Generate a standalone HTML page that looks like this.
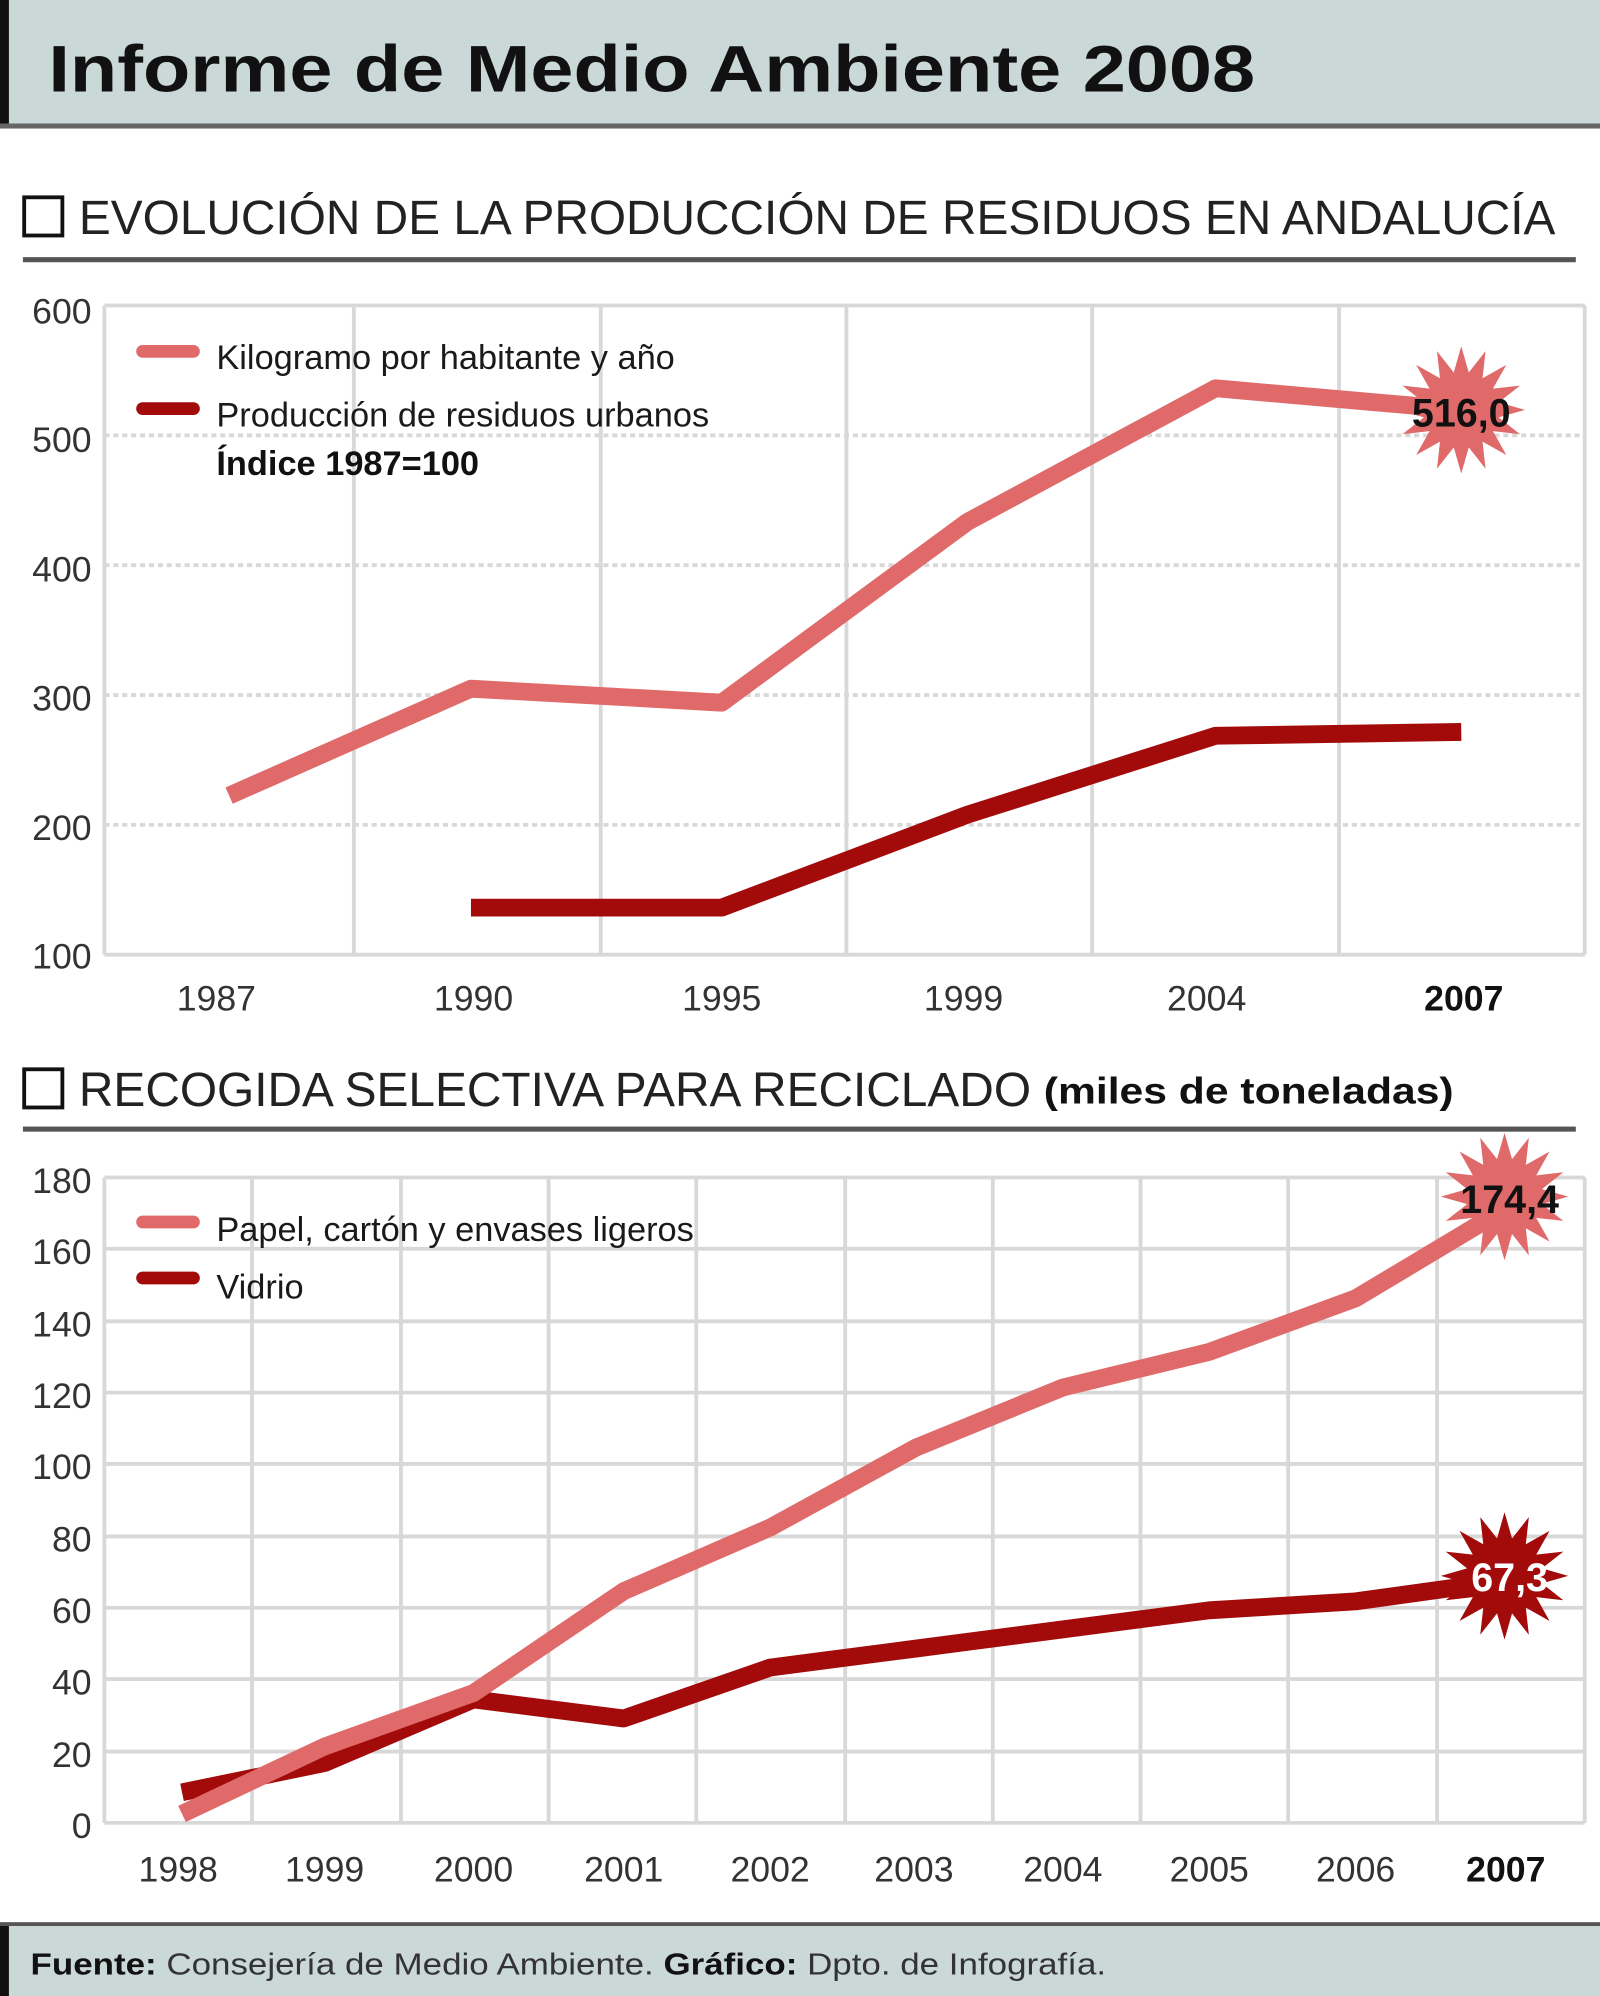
<!DOCTYPE html>
<html><head><meta charset="utf-8"><style>
html,body{margin:0;padding:0;background:#fff;width:1600px;height:1996px;overflow:hidden}
svg{display:block}
text{font-family:"Liberation Sans",sans-serif}
</style></head><body>
<svg width="1600" height="1996" viewBox="0 0 1257 1568" preserveAspectRatio="none" xmlns="http://www.w3.org/2000/svg">
<defs>
<polygon id="star" points="50,0 29.4,5.9 46.2,19.1 24.9,16.7 35.4,35.4 16.7,24.9 19.1,46.2 5.9,29.4 0,50 -5.9,29.4 -19.1,46.2 -16.7,24.9 -35.4,35.4 -24.9,16.7 -46.2,19.1 -29.4,5.9 -50,0 -29.4,-5.9 -46.2,-19.1 -24.9,-16.7 -35.4,-35.4 -16.7,-24.9 -19.1,-46.2 -5.9,-29.4 0,-50 5.9,-29.4 19.1,-46.2 16.7,-24.9 35.4,-35.4 24.9,-16.7 46.2,-19.1 29.4,-5.9"/>
</defs>
<rect width="1257" height="1568" fill="#fff"/>
<!-- header -->
<rect x="0" y="0" width="1257" height="100" fill="#cbd8d8"/>
<rect x="0" y="0" width="7" height="100" fill="#111"/>
<rect x="0" y="97" width="1257" height="4" fill="#666"/>
<text x="38" y="72" font-size="52" font-weight="bold" fill="#111" textLength="948" lengthAdjust="spacingAndGlyphs">Informe de Medio Ambiente 2008</text>

<!-- section 1 -->
<rect x="19" y="155" width="30" height="30" fill="none" stroke="#111" stroke-width="3"/>
<text x="62" y="184" font-size="38" fill="#222" textLength="1160" lengthAdjust="spacingAndGlyphs">EVOLUCIÓN DE LA PRODUCCIÓN DE RESIDUOS EN ANDALUCÍA</text>
<rect x="18" y="202" width="1220" height="4" fill="#555"/>

<g stroke="#d8d8d8" stroke-width="3">
<line x1="82" y1="240" x2="1245" y2="240"/>
<line x1="82" y1="750" x2="1245" y2="750"/>
<line x1="82" y1="342" x2="1245" y2="342" stroke-dasharray="4 3"/>
<line x1="82" y1="444" x2="1245" y2="444" stroke-dasharray="4 3"/>
<line x1="82" y1="546" x2="1245" y2="546" stroke-dasharray="4 3"/>
<line x1="82" y1="648" x2="1245" y2="648" stroke-dasharray="4 3"/>
<line x1="82" y1="240" x2="82" y2="750"/>
<line x1="278" y1="240" x2="278" y2="750"/>
<line x1="472" y1="240" x2="472" y2="750"/>
<line x1="665" y1="240" x2="665" y2="750"/>
<line x1="858" y1="240" x2="858" y2="750"/>
<line x1="1052" y1="240" x2="1052" y2="750"/>
<line x1="1245" y1="240" x2="1245" y2="750"/>
</g>
<g font-size="28" fill="#333" text-anchor="end">
<text x="72" y="254">600</text><text x="72" y="355">500</text><text x="72" y="457">400</text>
<text x="72" y="558">300</text><text x="72" y="660">200</text><text x="72" y="761">100</text>
</g>
<g font-size="28" fill="#333" text-anchor="middle">
<text x="170" y="794">1987</text><text x="372" y="794">1990</text><text x="567" y="794">1995</text>
<text x="757" y="794">1999</text><text x="948" y="794">2004</text><text x="1150" y="794" font-weight="bold" fill="#111">2007</text>
</g>
<g stroke-linecap="round" stroke-width="10">
<line x1="112" y1="276" x2="152" y2="276" stroke="#e06a6a"/>
<line x1="112" y1="321" x2="152" y2="321" stroke="#a30b0b"/>
</g>
<g font-size="27" fill="#1a1a1a">
<text x="170" y="290">Kilogramo por habitante y año</text>
<text x="170" y="335">Producción de residuos urbanos</text>
<text x="170" y="373" font-weight="bold" fill="#111">Índice 1987=100</text>
</g>
<polyline points="180,625 370,541 567,552 760,410 955,305 1148,322" fill="none" stroke="#e06a6a" stroke-width="14" stroke-linejoin="round"/>
<polyline points="370,713 567,713 760,640 955,578 1148,575" fill="none" stroke="#a30b0b" stroke-width="14" stroke-linejoin="round"/>
<use href="#star" x="1148" y="322" fill="#e06a6a"/>
<text x="1148" y="335" font-size="31" font-weight="bold" fill="#111" text-anchor="middle">516,0</text>

<!-- section 2 -->
<rect x="19" y="840" width="30" height="30" fill="none" stroke="#111" stroke-width="3"/>
<text x="62" y="869" font-size="38" fill="#222" textLength="748" lengthAdjust="spacingAndGlyphs">RECOGIDA SELECTIVA PARA RECICLADO</text>
<text x="820" y="867" font-size="29" font-weight="bold" fill="#111" textLength="322" lengthAdjust="spacingAndGlyphs">(miles de toneladas)</text>
<rect x="18" y="885" width="1220" height="4" fill="#555"/>

<g stroke="#d8d8d8" stroke-width="3">
<line x1="82" y1="925" x2="1245" y2="925"/>
<line x1="82" y1="1432" x2="1245" y2="1432"/>
<line x1="82" y1="981" x2="1245" y2="981"/><line x1="82" y1="1038" x2="1245" y2="1038"/>
<line x1="82" y1="1094" x2="1245" y2="1094"/><line x1="82" y1="1150" x2="1245" y2="1150"/>
<line x1="82" y1="1207" x2="1245" y2="1207"/><line x1="82" y1="1263" x2="1245" y2="1263"/>
<line x1="82" y1="1319" x2="1245" y2="1319"/><line x1="82" y1="1376" x2="1245" y2="1376"/>
<line x1="82" y1="925" x2="82" y2="1432"/><line x1="198" y1="925" x2="198" y2="1432"/>
<line x1="315" y1="925" x2="315" y2="1432"/><line x1="431" y1="925" x2="431" y2="1432"/>
<line x1="547" y1="925" x2="547" y2="1432"/><line x1="664" y1="925" x2="664" y2="1432"/>
<line x1="780" y1="925" x2="780" y2="1432"/><line x1="896" y1="925" x2="896" y2="1432"/>
<line x1="1012" y1="925" x2="1012" y2="1432"/><line x1="1129" y1="925" x2="1129" y2="1432"/>
<line x1="1245" y1="925" x2="1245" y2="1432"/>
</g>
<g font-size="28" fill="#333" text-anchor="end">
<text x="72" y="937">180</text><text x="72" y="993">160</text><text x="72" y="1050">140</text>
<text x="72" y="1106">120</text><text x="72" y="1162">100</text><text x="72" y="1219">80</text>
<text x="72" y="1275">60</text><text x="72" y="1331">40</text><text x="72" y="1388">20</text>
<text x="72" y="1444">0</text>
</g>
<g font-size="28" fill="#333" text-anchor="middle">
<text x="140" y="1478">1998</text><text x="255" y="1478">1999</text><text x="372" y="1478">2000</text>
<text x="490" y="1478">2001</text><text x="605" y="1478">2002</text><text x="718" y="1478">2003</text>
<text x="835" y="1478">2004</text><text x="950" y="1478">2005</text><text x="1065" y="1478">2006</text>
<text x="1183" y="1478" font-weight="bold" fill="#111">2007</text>
</g>
<g stroke-linecap="round" stroke-width="10">
<line x1="112" y1="960" x2="152" y2="960" stroke="#e06a6a"/>
<line x1="112" y1="1004" x2="152" y2="1004" stroke="#a30b0b"/>
</g>
<g font-size="27" fill="#1a1a1a">
<text x="170" y="975">Papel, cartón y envases ligeros</text>
<text x="170" y="1020">Vidrio</text>
</g>
<polyline points="143,1408 255,1385 372,1335 490,1350 605,1310 720,1295 835,1280 950,1265 1065,1258 1180,1242" fill="none" stroke="#a30b0b" stroke-width="14" stroke-linejoin="round"/>
<polyline points="143,1425 255,1372 372,1330 490,1250 605,1200 720,1137 835,1090 950,1062 1065,1020 1180,951" fill="none" stroke="#e06a6a" stroke-width="14" stroke-linejoin="round"/>
<use href="#star" x="1182" y="940" fill="#e06a6a"/>
<text x="1186" y="953" font-size="31" font-weight="bold" fill="#111" text-anchor="middle">174,4</text>
<use href="#star" x="1182" y="1238" fill="#a30b0b"/>
<text x="1186" y="1250" font-size="31" font-weight="bold" fill="#fff" text-anchor="middle">67,3</text>

<!-- footer -->
<rect x="0" y="1512" width="1257" height="56" fill="#cbd8d8"/>
<rect x="0" y="1512" width="7" height="56" fill="#111"/>
<rect x="0" y="1510" width="1257" height="3" fill="#555"/>
<text x="24" y="1551" font-size="24" fill="#333" textLength="845" lengthAdjust="spacingAndGlyphs"><tspan font-weight="bold" fill="#111">Fuente:</tspan> Consejería de Medio Ambiente. <tspan font-weight="bold" fill="#111">Gráfico:</tspan> Dpto. de Infografía.</text>
</svg>
</body></html>
